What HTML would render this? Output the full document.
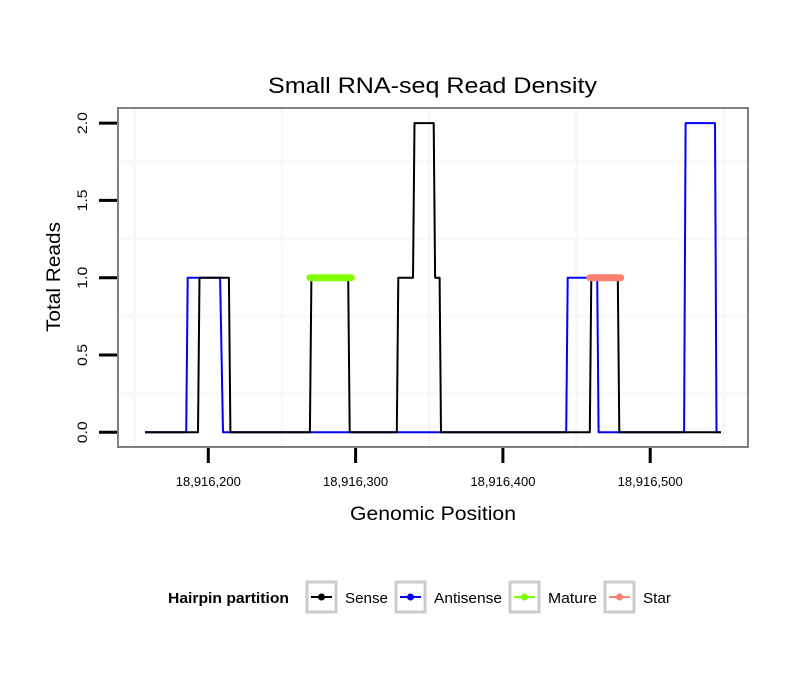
<!DOCTYPE html>
<html><head><meta charset="utf-8"><style>
body{margin:0;background:#fff;}
svg{display:block;font-family:"Liberation Sans",sans-serif;}
</style></head><body>
<svg id="chart" width="810" height="690" viewBox="0 0 810 690">
<text x="268" y="93" font-size="22" textLength="329" lengthAdjust="spacingAndGlyphs">Small RNA-seq Read Density</text>
<g id="grid"></g>
<g id="series"></g>
<rect x="118" y="108" width="630" height="339" fill="none" stroke="#808080" stroke-width="2"/>
<g id="axes"></g>
<text x="350" y="520" font-size="19" textLength="166" lengthAdjust="spacingAndGlyphs">Genomic Position</text>
<text transform="translate(60,332) rotate(-90)" font-size="19" textLength="110" lengthAdjust="spacingAndGlyphs">Total Reads</text>
<g>
<text x="168" y="603" font-size="15" font-weight="bold" textLength="121" lengthAdjust="spacingAndGlyphs">Hairpin partition</text>
<g>
<rect x="307" y="582" width="29" height="30" fill="#fff" stroke="#cccccc" stroke-width="3"/>
<line x1="311" y1="597" x2="332" y2="597" stroke="#000" stroke-width="2"/><circle cx="321.5" cy="597" r="3.5" fill="#000"/>
<text x="345" y="603" font-size="15" textLength="43" lengthAdjust="spacingAndGlyphs">Sense</text></g>
<g>
<rect x="396" y="582" width="29" height="30" fill="#fff" stroke="#cccccc" stroke-width="3"/>
<line x1="400" y1="597" x2="421" y2="597" stroke="#0000ff" stroke-width="2"/><circle cx="410.5" cy="597" r="3.5" fill="#0000ff"/>
<text x="434" y="603" font-size="15" textLength="68" lengthAdjust="spacingAndGlyphs">Antisense</text></g>
<g>
<rect x="510" y="582" width="29" height="30" fill="#fff" stroke="#cccccc" stroke-width="3"/>
<line x1="514" y1="597" x2="535" y2="597" stroke="#7fff00" stroke-width="2"/><circle cx="524.5" cy="597" r="3.5" fill="#7fff00"/>
<text x="548" y="603" font-size="15" textLength="49" lengthAdjust="spacingAndGlyphs">Mature</text></g>
<g>
<rect x="605" y="582" width="29" height="30" fill="#fff" stroke="#cccccc" stroke-width="3"/>
<line x1="609" y1="597" x2="630" y2="597" stroke="#fa8072" stroke-width="2"/><circle cx="619.5" cy="597" r="3.5" fill="#fa8072"/>
<text x="643" y="603" font-size="15" textLength="28" lengthAdjust="spacingAndGlyphs">Star</text></g>
</g>
</svg>
<script>
const senseX=[157,193,194,214,215,269,270,295,296,328,329,339,340,353,354,357,358,459,460,478,479,548];
const senseY=[0,0,1,1,0,0,1,1,0,0,1,1,2,2,1,1,0,0,1,1,0,0];
const antiX=[157,185,186,208,210,443,444,464,465,523,524,544,545,548];
const antiY=[0,0,1,1,0,0,1,1,0,0,2,2,0,0];
const matureX=[269,297];
const matureY=[1,1];
const starX=[459,480];
const starY=[1,1];
const xTicks=[200,300,400,500];
const xTickLabels=["18,916,200","18,916,300","18,916,400","18,916,500"];
const xMinor=[150,250,350,450,550];
const yTicks=[0,0.5,1,1.5,2];
const yTickLabels=["0.0","0.5","1.0","1.5","2.0"];
const yMinor=[0.25,0.75,1.25,1.75];

const NS="http://www.w3.org/2000/svg";
function sx(p){return 208.3+(p-200)*1.473;}
function sy(v){return 432.3-v*154.6;}
function mk(t,a,parent){const e=document.createElementNS(NS,t);for(const k in a)e.setAttribute(k,a[k]);parent.appendChild(e);return e;}
const grid=document.getElementById('grid'),series=document.getElementById('series'),axes=document.getElementById('axes');
xMinor.forEach(p=>{const l=mk('line',{x1:sx(p),x2:sx(p),y1:109,y2:446,stroke:'#f8f8f8','stroke-width':3},grid);

});
yMinor.forEach(v=>{const l=mk('line',{x1:119,x2:747,y1:sy(v),y2:sy(v),stroke:'#f8f8f8','stroke-width':3},grid);

});
function path(xs,ys,color,w,cap,name){
 const pts=xs.map((x,i)=>sx(x).toFixed(1)+','+sy(ys[i]).toFixed(1)).join(' ');
 const p=mk('polyline',{points:pts,fill:'none',stroke:color,'stroke-width':w,'stroke-linecap':cap,'stroke-linejoin':'round'},series);
 
 
}
path(antiX,antiY,'#0000ff',2,'butt','antisense-line');
path(senseX,senseY,'#000',2,'butt','sense-line');
path(matureX,matureY,'#7fff00',7,'round','mature-segment');
path(starX,starY,'#fa8072',7,'round','star-segment');
xTicks.forEach((p,i)=>{
 const l=mk('line',{x1:sx(p),x2:sx(p),y1:448,y2:463,stroke:'#000','stroke-width':3},axes);
 
 
 const t=mk('text',{x:sx(p),y:486,'font-size':13,'text-anchor':'middle'},axes);
 t.textContent=xTickLabels[i];
 
 
});
yTicks.forEach((v,i)=>{
 const l=mk('line',{x1:99,x2:117,y1:sy(v),y2:sy(v),stroke:'#000','stroke-width':3},axes);
 
 
 const t=mk('text',{transform:'translate(87,'+(sy(v)+11)+') rotate(-90)','font-size':14,textLength:22,lengthAdjust:'spacingAndGlyphs'},axes);
 t.textContent=yTickLabels[i];
 
 
});
</script>
</body></html>
